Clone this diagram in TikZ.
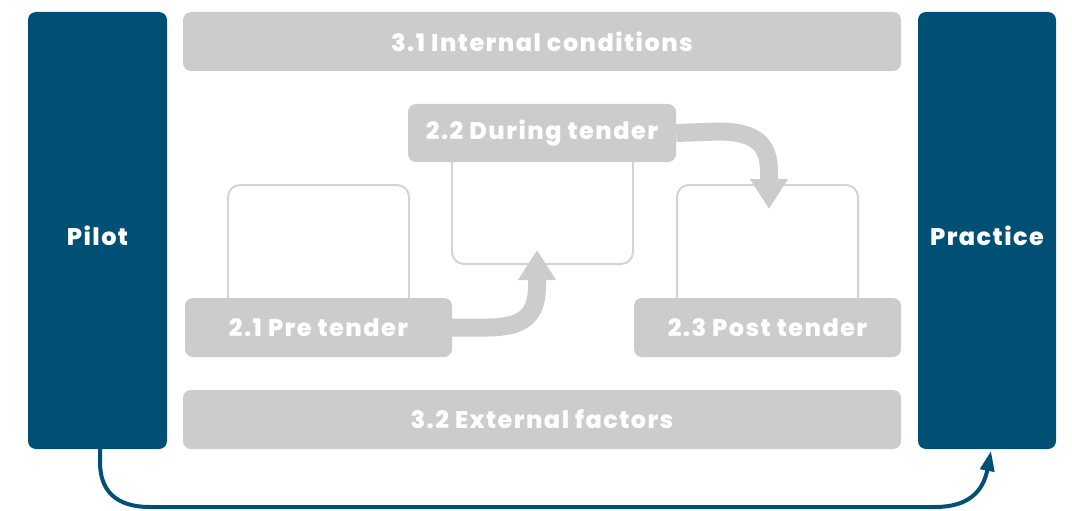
\documentclass[tikz,border=0pt]{standalone}
\usepackage{fontspec}
\setmainfont{Poppins}[BoldFont={Poppins ExtraBold},BoldFeatures={LetterSpace=6}]
\usetikzlibrary{arrows.meta}
\definecolor{dblue}{RGB}{0,79,116}
\definecolor{lgray}{RGB}{204,204,204}
\definecolor{ogray}{RGB}{212,212,212}
\begin{document}
\begin{tikzpicture}[x=1pt,y=-1pt,
  sidebox/.style={fill=dblue,rounded corners=8pt,minimum width=139pt,minimum height=437pt,inner sep=0pt},
  lbl/.style={text=white,inner sep=0pt,font=\bfseries\fontsize{24}{28}\selectfont},
  graybox/.style={fill=lgray,rounded corners=8pt,minimum height=59pt,inner sep=0pt,text=white,font=\bfseries\fontsize{24}{28}\selectfont},
  outlinebox/.style={draw=ogray,line width=2pt,rounded corners=12pt},
  grayarrow/.style={draw=lgray,line width=18pt,-{Triangle[width=36pt,length=30pt]}},
  bluearrow/.style={draw=dblue,line width=4pt,-{Triangle[width=14pt,length=20pt]}}]
\useasboundingbox (0,0) rectangle (1072,511);
% outline boxes
\draw[outlinebox] (228,330) -- (228,185) -- (409,185) -- (409,330);
\draw[outlinebox] (452,140) -- (452,264) -- (633,264) -- (633,140);
\draw[outlinebox] (677,330) -- (677,185) -- (858,185) -- (858,330);
% side boxes
\node[sidebox] (pilot) at (97.5,230.5) {};
\node[sidebox,minimum width=138pt] (practice) at (987,230.5) {};
\node[lbl] (pilottext) at (97.5,236) {Pilot};
\node[lbl] (practicetext) at (987,236) {Practice};
% gray boxes
\node[graybox,minimum width=718pt] (internal) at (542,41.5) {3.1 Internal conditions};
\node[graybox,minimum width=718pt] (external) at (542,419.5) {3.2 External factors};
\node[graybox,minimum width=268pt,minimum height=58pt] (during) at (542,133) {2.2 During tender};
\node[graybox,minimum width=267pt] (pre) at (318.5,327.5) {2.1 Pre tender};
\node[graybox,minimum width=267pt] (post) at (767.5,327.5) {2.3 Post tender};
% gray arrows
\coordinate (a1) at (537,250);
\coordinate (a2) at (769,209);
\draw[grayarrow] (pre.east) -- (487,327.5) .. controls (528,327.5) and (537,312) .. (537,285) -- (a1);
\draw[grayarrow] (during.east) -- (718,131.5) .. controls (758,131.5) and (769,146) .. (769,172) -- (a2);
% blue arrow
\coordinate (b1) at (100,449);
\coordinate (b2) at (991,451);
\draw[bluearrow] (b1) -- (100,462) .. controls (100,490) and (115,507) .. (150,507) -- (935,507) .. controls (968,507) and (983,492) .. (b2);
\end{tikzpicture}
\end{document}
